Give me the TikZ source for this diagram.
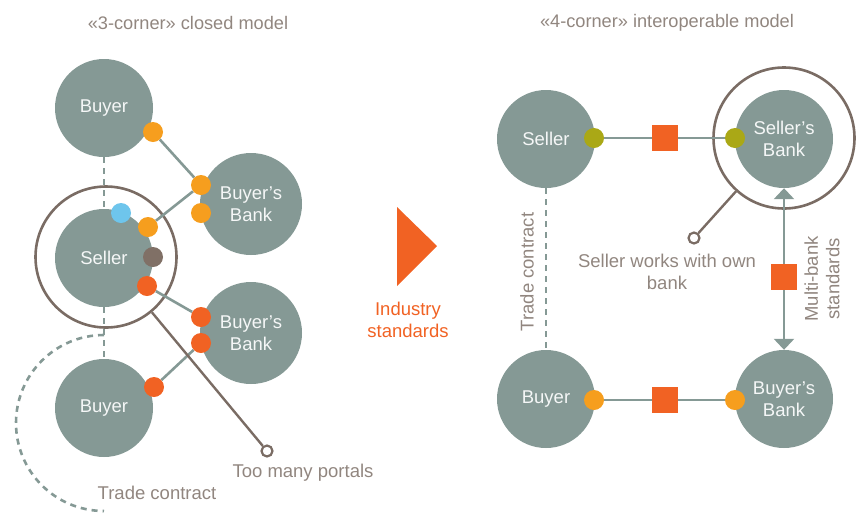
\documentclass[tikz,border=0pt]{standalone}
\usepackage{fontspec}
\setmainfont{Liberation Sans}
\usepackage{tikz}
\usetikzlibrary{shapes,arrows,arrows.meta}
\usepackage{xcolor}
\definecolor{sage}{RGB}{133,153,149}
\definecolor{umber}{RGB}{122,108,100}
\definecolor{greige}{RGB}{145,134,127}
\definecolor{amber}{RGB}{246,158,30}
\definecolor{flame}{RGB}{241,98,35}
\definecolor{sky}{RGB}{110,197,236}
\definecolor{olive}{RGB}{170,168,22}
\definecolor{cocoa}{RGB}{128,112,102}
\tikzstyle{party} = [circle, fill=sage, text=white!92!sage, minimum size=98pt, inner sep=0pt,
    align=center, font=\fontsize{18.5}{21.5}\selectfont]
\tikzstyle{port} = [circle, minimum size=20pt, inner sep=0pt]
\tikzstyle{gate} = [rectangle, fill=flame, minimum size=26pt, inner sep=0pt]
\tikzstyle{ring} = [circle, draw=umber, line width=2.6pt, minimum size=141pt]
\tikzstyle{tip} = [circle, draw=umber, fill=white, line width=2.2pt, minimum size=11pt, inner sep=0pt]
\tikzstyle{link} = [draw=sage, line width=2.6pt]
\tikzstyle{contract} = [draw=sage, line width=2.6pt, dash pattern=on 6pt off 5pt]
\tikzstyle{pointer} = [draw=umber, line width=2.4pt]
\tikzstyle{caption} = [text=greige, align=center, font=\fontsize{18.5}{21.5}\selectfont]
\tikzstyle{title} = [text=greige, font=\fontsize{18.2}{21}\selectfont]

\begin{document}
\begin{tikzpicture}[x=1pt, y=-1pt]
    \useasboundingbox (0,0) rectangle (862,523);
    % Place nodes: closed model
    \node [party] (buyer1) at (104,108) {Buyer};
    \node [party] (seller1) at (104,258) {Seller};
    \node [party] (buyer2) at (104,408) {Buyer};
    \node [party, minimum size=102pt] (bank1) at (251,204) {Buyer’s\\Bank};
    \node [party, minimum size=102pt] (bank2) at (251,333) {Buyer’s\\Bank};
    \node [ring] (halo1) at (106,257) {};
    \coordinate (arctop) at (104,335);

    \node [port, fill=amber] (p1) at (153,132) {};
    \node [port, fill=amber] (p2) at (201,185) {};
    \node [port, fill=amber] (p3) at (201,213) {};
    \node [port, fill=sky] (p4) at (121,213) {};
    \node [port, fill=amber] (p5) at (148,227) {};
    \node [port, fill=cocoa] (p6) at (153,257) {};
    \node [port, fill=flame] (p7) at (147,286) {};
    \node [port, fill=flame] (p8) at (201,317) {};
    \node [port, fill=flame] (p9) at (201,343) {};
    \node [port, fill=flame] (p10) at (154,387) {};
    \node [tip] (tip1) at (267,451) {};

    \node [title] (title1) at (188,23) {«3-corner» closed model};
    \node [caption] (portals) at (303,473) {Too many portals};
    \node [caption] (contract1) at (157,493) {Trade contract};

  \path [link] (p1) -- (p2);
  \path [link] (p5) -- (p2);
  \path [link] (p7) -- (p8);
  \path [link] (p10) -- (p9);
  \path [contract] (buyer1) -- (seller1);
  \path [contract] (seller1) -- (buyer2);
  \path [contract] (arctop) arc[start angle=90, end angle=270, radius=88pt];
  \path [pointer] (halo1) -- (tip1);

    % Middle arrow
    \fill [flame] (397,207) -- (437,246) -- (397,286) -- cycle;
    \node [caption, text=flame] (industry) at (408,320) {Industry\\standards};

    % Place nodes: interoperable model
    \node [party] (seller2) at (546,139) {Seller};
    \node [party] (sbank) at (784,139) {Seller’s\\Bank};
    \node [party] (buyer3) at (546,399) {Buyer};
    \node [party] (bbank) at (784,399) {Buyer’s\\Bank};
    \node [ring] (halo2) at (784,138) {};

    \node [port, fill=olive] (q1) at (594,138) {};
    \node [port, fill=olive] (q2) at (735,138) {};
    \node [port, fill=amber] (q3) at (594,400) {};
    \node [port, fill=amber] (q4) at (735,400) {};
    \node [tip] (tip2) at (694,238) {};

    \node [title] (title2) at (667,23) {«4-corner» interoperable model};
    \node [caption] (ownbank) at (667,272) {Seller works with own\\bank};
    \node [caption, rotate=90] (contract2) at (527,272) {Trade contract};
    \node [caption, rotate=90] (multi) at (822,279) {Multi-bank\\standards};

  \path [link] (q1) -- node [gate] {} (q2);
  \path [link] (q3) -- node [gate] {} (q4);
  \path [link, {Triangle[width=20pt,length=11pt]}-{Triangle[width=20pt,length=11pt]}]
      (sbank) -- node [gate, pos=0.55] {} (bbank);
  \path [contract] (seller2) -- (buyer3);
  \path [pointer] (halo2) -- (tip2);
\end{tikzpicture}
\end{document}
